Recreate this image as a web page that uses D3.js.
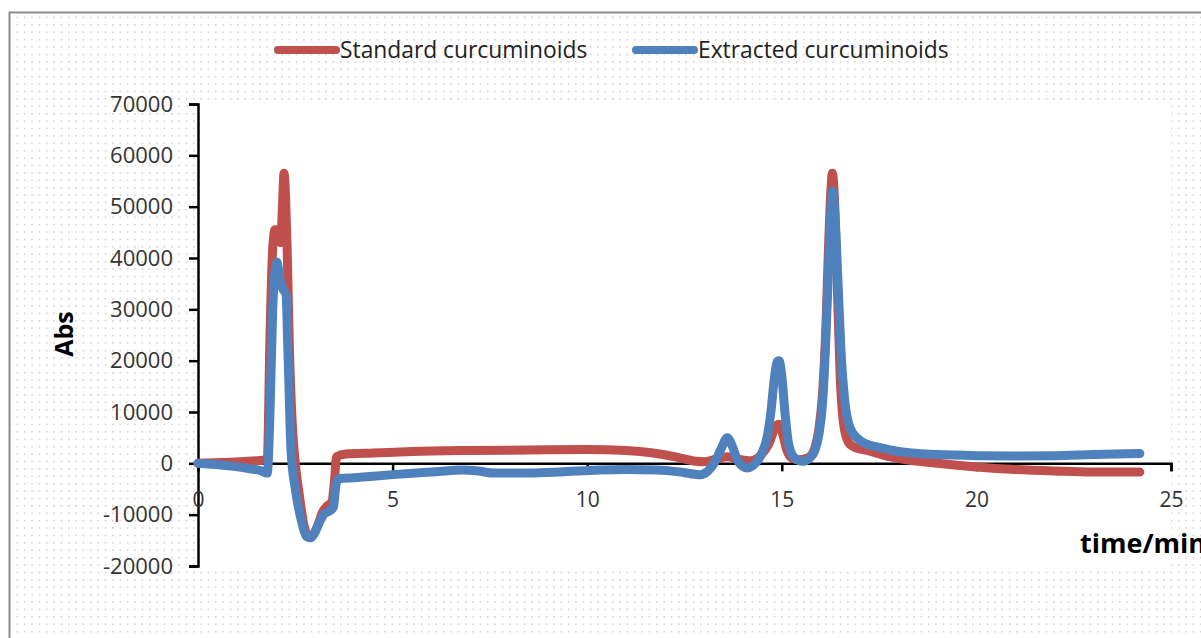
<!DOCTYPE html>
<html>
<head>
<meta charset="utf-8">
<title>Curcuminoids chromatogram</title>
<script src="https://d3js.org/d3.v7.min.js"></script>
<style>
  body { margin: 0; background: #fff; }
  .tick text { font-family: "Open Sans", sans-serif; fill: #333; }
  .axis path, .axis line { stroke: #000; stroke-width: 2.5; }
  .series { fill: none; stroke-width: 9; stroke-linejoin: round; stroke-linecap: round; }
</style>
</head>
<body>
<script>

// series names and colours (Excel 2007 defaults)
var seriesNames = ["Standard curcuminoids", "Extracted curcuminoids"];
var seriesColors = ["#c0504d", "#4f81bd"];

// standard curcuminoids: time (min) and absorbance
var standardTime = [0, 0.6, 1.2, 1.6, 1.78, 1.85, 1.92, 1.98, 2.05, 2.12, 2.17, 2.21, 2.25, 2.29, 2.35, 2.42, 2.5,
  2.6, 2.72, 2.85, 2.95, 3.08, 3.2, 3.32, 3.44, 3.5, 3.56, 3.8, 4.5, 5.5, 7, 8.5, 10, 11, 11.7, 12.3, 12.8, 13.0,
  13.3, 13.6, 13.9, 14.2, 14.45, 14.68, 14.82, 14.92, 15.02, 15.12, 15.25, 15.45, 15.7, 15.85, 15.95, 16.05, 16.13,
  16.2, 16.26, 16.3, 16.35, 16.42, 16.5, 16.6, 16.72, 16.85, 17.2, 17.6, 18.2, 19, 20, 21, 22, 23, 24.2];
var standardAbs = [0, 150, 350, 550, 700, 25000, 42000, 45500, 45000, 43000, 50000, 56500, 52000, 42000, 22000, 8000, 0,
  -6000, -12000, -14300, -14000, -12000, -9500, -8300, -7500, -4000, 1300, 1800, 2000, 2300, 2500, 2600, 2700, 2500, 2000, 1200, 400, 300,
  800, 1300, 800, 500, 1500, 4000, 6800, 7600, 5800, 2800, 1100, 700, 1200, 3000, 6500, 14000, 26000,
  42000, 53000, 56500, 52000, 36000, 17000, 7000, 4000, 3200, 2500, 1600, 700, 0, -700, -1200, -1500, -1700, -1700];

// extracted curcuminoids: time (min) and absorbance
var extractedTime = [0, 0.8, 1.3, 1.6, 1.78, 1.85, 1.92, 2.0, 2.03, 2.1, 2.18, 2.26, 2.31, 2.39, 2.5, 2.65, 2.8, 2.9,
  3.0, 3.15, 3.25, 3.38, 3.48, 3.55, 3.62, 4, 5, 6, 6.8, 7.2, 7.6, 8.5, 9.3, 10.3, 11, 11.8, 12.4, 12.9, 13.1,
  13.3, 13.45, 13.6, 13.72, 13.85, 14.0, 14.12, 14.25, 14.4, 14.5, 14.62, 14.72, 14.8, 14.88, 14.93, 15.0, 15.08,
  15.17, 15.28, 15.42, 15.55, 15.7, 15.85, 15.95, 16.05, 16.13, 16.2, 16.26, 16.3, 16.36, 16.44, 16.52, 16.62,
  16.75, 16.95, 17.2, 17.5, 18, 19, 20, 21, 22, 23, 24.2];
var extractedAbs = [0, -500, -1000, -1400, -1900, 10000, 30000, 38500, 39200, 36000, 34000, 33000, 22000, 2500, -5000, -11000, -14300, -14500,
  -13500, -11000, -9800, -9300, -8500, -4000, -3000, -2800, -2200, -1700, -1300, -1500, -1900, -1900, -1700, -1300, -1200, -1300, -1700, -2200, -1500,
  500, 3000, 5000, 3500, 800, -600, -900, -500, 700, 2200, 5000, 10000, 16000, 19800, 20000, 17000, 10000,
  4000, 1500, 600, 400, 900, 2500, 5500, 12000, 24000, 38000, 49000, 53000, 49000, 36000, 22000, 12000,
  7000, 4800, 3700, 3100, 2300, 1700, 1500, 1450, 1500, 1700, 1900];

// axis ticks
var xTicks = [0, 5, 10, 15, 20, 25];
var yTicks = [-20000, -10000, 0, 10000, 20000, 30000, 40000, 50000, 60000, 70000];

var W = 1201, H = 638;
var margin = {top: 104, right: 30, bottom: 72, left: 198};
var width = 1171 - margin.left,
    height = 566 - margin.top;

var svg = d3.select("body").append("svg")
    .attr("width", W)
    .attr("height", H);

// dotted chart background
var defs = svg.append("defs");
var pat = defs.append("pattern")
    .attr("id", "dots")
    .attr("patternUnits", "userSpaceOnUse")
    .attr("width", 7.35)
    .attr("height", 7.4);
pat.append("rect").attr("width", 7.35).attr("height", 7.4).attr("fill", "#fff");
pat.append("rect").attr("x", 2).attr("y", 2).attr("width", 1.3).attr("height", 1.3).attr("fill", "#bdbdbd");

svg.append("rect")
    .attr("x", 10).attr("y", 13)
    .attr("width", W - 10).attr("height", H - 13)
    .attr("fill", "url(#dots)");

// chart border (left and top visible)
svg.append("path")
    .attr("d", "M9.5," + H + "V12.5H" + W)
    .attr("fill", "none")
    .attr("stroke", "#8c8c8c")
    .attr("stroke-width", 2);

var g = svg.append("g")
    .attr("transform", "translate(" + margin.left + "," + margin.top + ")");

// white plot area
g.append("rect")
    .attr("x", 0).attr("y", -2)
    .attr("width", width).attr("height", height + 3)
    .attr("fill", "#fff");

var x = d3.scaleLinear().domain([0, 25]).range([0, width]);
var y = d3.scaleLinear().domain([-20000, 70000]).range([height, 0]);

// y axis (plain hyphen for negatives, like the original)
g.append("g")
    .attr("class", "axis")
    .call(d3.axisLeft(y).tickValues(yTicks).tickFormat(function(d) { return String(d); })
      .tickSize(9).tickSizeOuter(9).tickPadding(16))
    .selectAll("text").style("font-size", "22px");

// x axis sits on zero
g.append("g")
    .attr("class", "axis")
    .attr("transform", "translate(0," + y(0) + ")")
    .call(d3.axisBottom(x).tickValues(xTicks).tickSize(8).tickSizeOuter(8).tickPadding(21))
    .selectAll("text").style("font-size", "21px");

// series lines
var line = d3.line()
    .x(function(d) { return x(d[0]); })
    .y(function(d) { return y(d[1]); })
    .curve(d3.curveMonotoneX);

var series = [
  d3.zip(standardTime, standardAbs),
  d3.zip(extractedTime, extractedAbs)
];

series.forEach(function(s, i) {
  g.append("path")
      .datum(s)
      .attr("class", "series")
      .attr("stroke", seriesColors[i])
      .attr("d", line);
});

// legend
var legendX = [278, 636];
seriesNames.forEach(function(name, i) {
  svg.append("line")
      .attr("x1", legendX[i]).attr("x2", legendX[i] + 58)
      .attr("y1", 50).attr("y2", 50)
      .attr("stroke", seriesColors[i])
      .attr("stroke-width", 8)
      .attr("stroke-linecap", "round");
  svg.append("text")
      .attr("x", legendX[i] + 62)
      .attr("y", 58)
      .style("font-family", "Open Sans, sans-serif")
      .style("font-size", "22.8px")
      .attr("fill", "#222")
      .text(name);
});

// axis titles
svg.append("text")
    .attr("transform", "translate(73,334) rotate(-90)")
    .attr("text-anchor", "middle")
    .style("font-family", "Open Sans, sans-serif")
    .style("font-size", "25px")
    .style("font-weight", "bold")
    .text("Abs");

svg.append("text")
    .attr("x", 1080)
    .attr("y", 553)
    .style("font-family", "Open Sans, sans-serif")
    .style("font-size", "27px")
    .style("font-weight", "bold")
    .text("time/min");

</script>
</body>
</html>
